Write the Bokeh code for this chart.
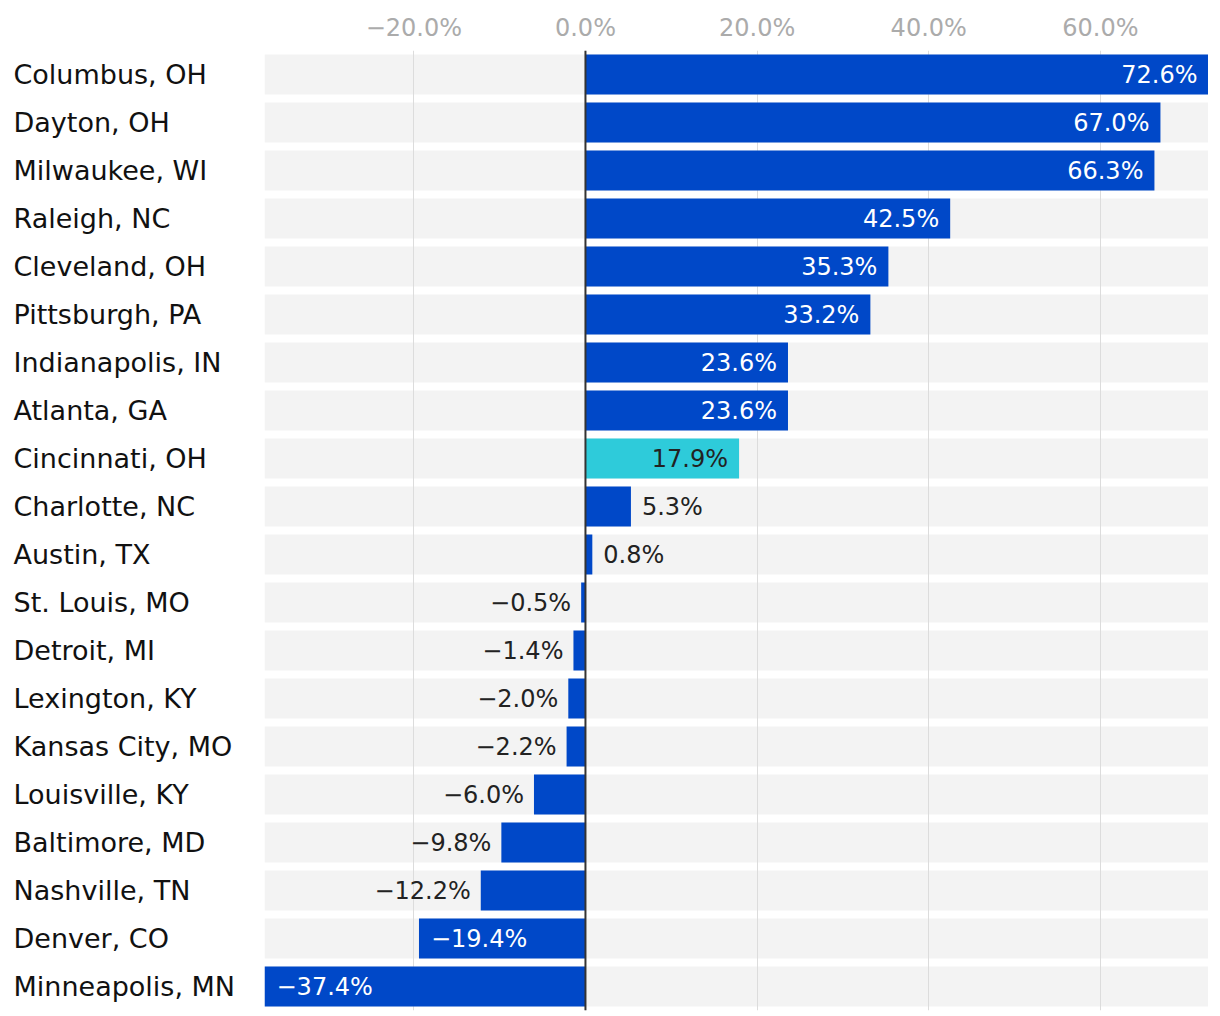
from bokeh.plotting import figure
from bokeh.layouts import row
from bokeh.models import ColumnDataSource, FixedTicker, CustomJSTickFormatter, Span, FactorRange, Range1d
from bokeh.core.properties import value
from bokeh.embed import file_html
from bokeh.resources import INLINE

cities = ["Columbus, OH", "Dayton, OH", "Milwaukee, WI", "Raleigh, NC", "Cleveland, OH",
          "Pittsburgh, PA", "Indianapolis, IN", "Atlanta, GA", "Cincinnati, OH", "Charlotte, NC",
          "Austin, TX", "St. Louis, MO", "Detroit, MI", "Lexington, KY", "Kansas City, MO",
          "Louisville, KY", "Baltimore, MD", "Nashville, TN", "Denver, CO", "Minneapolis, MN"]
values = [72.6, 67.0, 66.3, 42.5, 35.3, 33.2, 23.6, 23.6, 17.9, 5.3,
          0.8, -0.5, -1.4, -2.0, -2.2, -6.0, -9.8, -12.2, -19.4, -37.4]
highlight = "Cincinnati, OH"
ticks = [-20, 0, 20, 40, 60]

BLUE = "#0048c8"
CYAN = "#2ecbda"
FONT = "DejaVu Sans"

xmin, xmax = min(values), max(values)

def fmt(v):
    return ("\u2212" if v < 0 else "") + f"{abs(v):.1f}%"

inside = [abs(v) > 15 for v in values]
colors = [CYAN if c == highlight else BLUE for c in cities]
lab_color = []
for c, v, ins in zip(cities, values, inside):
    if c == highlight or not ins:
        lab_color.append("#222222")
    else:
        lab_color.append("#ffffff")
align = []
offs = []
for v, ins in zip(values, inside):
    if v >= 0:
        align.append("right" if ins else "left")
        offs.append(-11 if ins else 11)
    else:
        align.append("left" if ins else "right")
        offs.append(12 if ins else -10)

src = ColumnDataSource(dict(
    city=cities, val=values, color=colors, label=[fmt(v) for v in values],
    lcolor=lab_color, align=align, off=offs,
    bl=[xmin] * len(cities), br=[xmax] * len(cities),
))

yr = FactorRange(*reversed(cities), range_padding=0)
TOP, BOTTOM, H = 50, 2, 1012

p = figure(width=944, height=H, output_backend="svg", toolbar_location=None,
           y_range=yr, x_range=Range1d(xmin, xmax), x_axis_location="above",
           min_border_left=0, min_border_right=0, min_border_top=TOP, min_border_bottom=BOTTOM)
p.outline_line_color = None
p.yaxis.visible = False
p.ygrid.grid_line_color = None
p.xgrid.grid_line_color = "#dcdcdc"
p.xgrid.grid_line_width = 1
p.xgrid.ticker = FixedTicker(ticks=ticks)

ax = p.xaxis[0]
ax.ticker = FixedTicker(ticks=ticks)
ax.formatter = CustomJSTickFormatter(code="return (tick < 0 ? '\\u2212' : '') + Math.abs(tick).toFixed(1) + '%';")
ax.axis_line_color = None
ax.major_tick_line_color = None
ax.minor_tick_line_color = None
ax.major_tick_out = 0
ax.major_label_text_font = FONT
ax.major_label_text_font_size = "24px"
ax.major_label_text_color = "#ababab"
ax.major_label_standoff = 9

bands = p.hbar(y="city", left="bl", right="br", height=0.833, source=src,
               fill_color="#f3f3f3", line_color=None)
bands.level = "image"

p.hbar(y="city", left=0, right="val", height=0.833, source=src,
       fill_color="color", line_color=None)

p.add_layout(Span(location=0, dimension="height", line_color="#333333", line_width=2))

p.text(x="val", y="city", text="label", source=src, text_align="align", x_offset="off",
       text_baseline="middle", text_color="lcolor", text_font=value(FONT), text_font_size="24px")

# left label panel
lsrc = ColumnDataSource(dict(city=cities, lx=[0.0] * len(cities)))
q = figure(width=264, height=H, output_backend="svg", toolbar_location=None,
           y_range=yr, x_range=Range1d(0, 1),
           min_border_left=0, min_border_right=0, min_border_top=TOP, min_border_bottom=BOTTOM)
q.outline_line_color = None
q.axis.visible = False
q.grid.grid_line_color = None
q.text(x="lx", y="city", text="city", source=lsrc, x_offset=13,
       text_align="left", text_baseline="middle", text_color="#111111",
       text_font=value(FONT), text_font_size="27px")

layout = row(q, p)
open("out.html", "w").write(file_html(layout, INLINE))
